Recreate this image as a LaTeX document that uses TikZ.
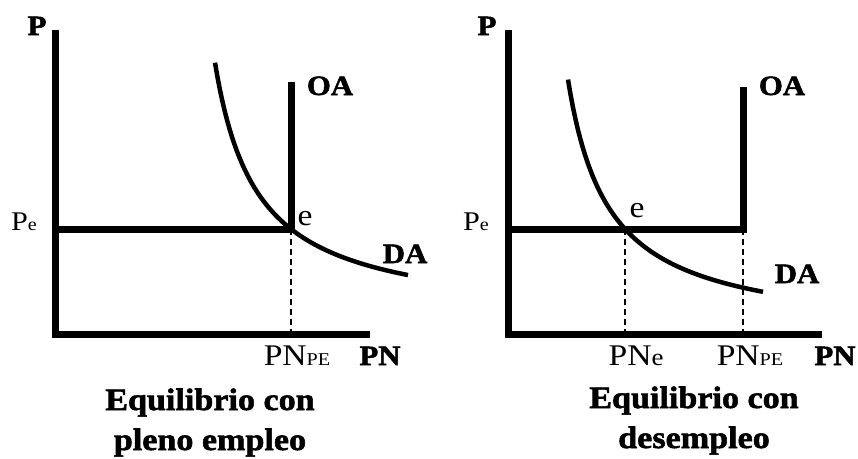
\documentclass[tikz,border=0pt]{standalone}
\usepackage{fontspec}
\setmainfont{Liberation Serif}[FakeStretch=1.12]
\newfontfamily\heavy{Liberation Serif}[FakeStretch=1.1, BoldFeatures={FakeBold=1.8}]
\usetikzlibrary{positioning}
\newcommand\sml[1]{{\fontsize{18}{18}\selectfont #1}}

\begin{document}
\begin{tikzpicture}[x=1pt, y=-1pt,
  axis/.style={line width=7pt},
  demand/.style={line width=4.5pt},
  guide/.style={line width=1.5pt, dash pattern=on 6pt off 4pt},
  big/.style={font=\fontsize{28}{30}\selectfont\heavy\bfseries, inner sep=0pt, anchor=base},
  val/.style={font=\fontsize{30}{30}\selectfont, inner sep=0pt, anchor=base},
  title/.style={font=\fontsize{31}{40}\selectfont\heavy\bfseries, inner sep=0pt,
                anchor=base, align=center}]
  \useasboundingbox (0,0) rectangle (858,458);

  % pleno empleo
  \coordinate (top1) at (55,30);
  \coordinate (o1)   at (55,334);
  \coordinate (end1) at (370,334);
  \coordinate (pe1)  at (55,229);
  \coordinate (e1)   at (291,229);
  \coordinate (oa1)  at (291,82);
  \coordinate (pn1)  at (291,331);
  \draw[axis] (top1) -- (o1) -- (end1);
  \draw[axis] (pe1) -- (e1) -- (oa1);
  \draw[guide] (e1) -- (pn1);
  \draw[demand] plot[domain=215:408, samples=80] (\x, {321.6-10950/(\x-172.7)});
  \node[big] (p1)   at (37,35)   {P};
  \node[big] (oal1) at (330,95)  {OA};
  \node[val] (el1)  at (305,225) {e};
  \node[val, font=\fontsize{27}{27}\selectfont] (pel1) at (24,230) {P\sml{e}};
  \node[big] (da1)  at (405,263) {DA};
  \node[val] (npe1) at (297,365) {PN\sml{PE}};
  \node[big] (pnl1) at (380,365) {PN};
  \node[title] (t1) at (210,450) {Equilibrio con\\pleno empleo};

  % desempleo
  \coordinate (top2) at (508,30);
  \coordinate (o2)   at (508,334);
  \coordinate (end2) at (822,334);
  \coordinate (pe2)  at (508,229);
  \coordinate (e2)   at (625,229);
  \coordinate (k2)   at (743,229);
  \coordinate (oa2)  at (743,87);
  \coordinate (pn2)  at (625,331);
  \coordinate (pf2)  at (743,331);
  \draw[axis] (top2) -- (o2) -- (end2);
  \draw[axis] (pe2) -- (k2) -- (oa2);
  \draw[guide] (e2) -- (pn2);
  \draw[guide] (k2) -- (pf2);
  \draw[demand] plot[domain=568:763, samples=80] (\x, {336.4-10530/(\x-527)});
  \node[big] (p2)   at (487,35)  {P};
  \node[big] (oal2) at (782,95)  {OA};
  \node[val] (el2)  at (637,217) {e};
  \node[val, font=\fontsize{27}{27}\selectfont] (pel2) at (476,230) {P\sml{e}};
  \node[big] (da2)  at (797,283) {DA};
  \node[val] (ne2)  at (636,365) {PN{\fontsize{24}{24}\selectfont e}};
  \node[val] (npe2) at (750,365) {PN\sml{PE}};
  \node[big] (pnl2) at (835,365) {PN};
  \node[title] (t2) at (694,448) {Equilibrio con\\desempleo};
\end{tikzpicture}
\end{document}
